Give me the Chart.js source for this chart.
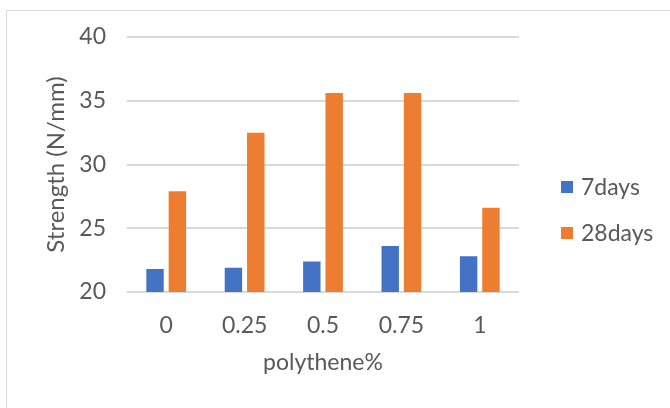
<!DOCTYPE html>
<html>
<head>
<meta charset="utf-8">
<script src="https://cdn.jsdelivr.net/npm/chart.js@4.4.0/dist/chart.umd.min.js"></script>
<style>
  html, body { margin: 0; padding: 0; background: #fff; overflow: hidden; }
  #wrap { position: relative; width: 670px; height: 408px; }
  #frame { position: absolute; left: 6px; top: 10px; width: 720px; height: 440px; border: 1px solid #d9d9d9; }
  canvas { position: absolute; left: 0; top: 0; }
</style>
</head>
<body>
<div id="wrap">
  <div id="frame"></div>
  <canvas id="chart" width="670" height="408"></canvas>
</div>
<script>
const categories = ['0', '0.25', '0.5', '0.75', '1'];
const days7 = [21.8, 21.9, 22.4, 23.6, 22.8];
const days28 = [27.9, 32.5, 35.6, 35.6, 26.6];
const seriesNames = ['7days', '28days'];
const yTicks = [20, 25, 30, 35, 40];

const textColor = '#595959';
const fontFamily = 'Lato, "Open Sans", sans-serif';

// simple legend on the right, drawn from the datasets
const sideLegend = {
  id: 'sideLegend',
  afterDraw(chart) {
    const ctx = chart.ctx;
    ctx.save();
    ctx.font = '23px ' + fontFamily;
    ctx.textBaseline = 'middle';
    chart.data.datasets.forEach((ds, i) => {
      const y = 187 + i * 46;
      ctx.fillStyle = ds.backgroundColor;
      ctx.fillRect(561, y - 6, 12, 12);
      ctx.fillStyle = textColor;
      ctx.fillText(ds.label, 581, y + 1);
    });
    ctx.restore();
  }
};

const ctx = document.getElementById('chart').getContext('2d');
new Chart(ctx, {
  type: 'bar',
  data: {
    labels: categories,
    datasets: [
      { label: seriesNames[0], data: days7, backgroundColor: '#4472C4', categoryPercentage: 0.57, barPercentage: 0.78 },
      { label: seriesNames[1], data: days28, backgroundColor: '#ED7D31', categoryPercentage: 0.57, barPercentage: 0.78 }
    ]
  },
  options: {
    responsive: false,
    animation: false,
    layout: { padding: { left: 0, right: 151, top: 37, bottom: 0 } },
    plugins: {
      legend: { display: false },
      tooltip: { enabled: false }
    },
    scales: {
      x: {
        grid: { display: false, drawTicks: false },
        border: { display: false },
        ticks: { color: textColor, font: { family: fontFamily, size: 23 }, padding: 20 },
        title: {
          display: true, text: 'polythene%', color: textColor,
          font: { family: fontFamily, size: 23 }, padding: { top: 0, bottom: 32 }
        },
        afterFit(scale) { scale.height = 116; }
      },
      y: {
        min: 20, max: 40,
        afterBuildTicks(scale) { scale.ticks = yTicks.map(v => ({ value: v })); },
        grid: { color: '#d9d9d9', lineWidth: 2, drawTicks: false },
        border: { display: false },
        ticks: { color: textColor, font: { family: fontFamily, size: 23 }, padding: 21 },
        title: {
          display: true, text: 'Strength (N/mm)', color: textColor,
          font: { family: fontFamily, size: 24 }, padding: { top: 42, bottom: 0 }
        },
        afterFit(scale) { scale.width = 127; }
      }
    }
  },
  plugins: [sideLegend]
});
</script>
</body>
</html>
